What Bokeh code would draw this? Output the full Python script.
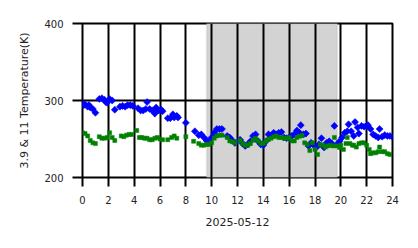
import numpy as np
from bokeh.plotting import figure
from bokeh.models import BoxAnnotation, FixedTicker, Range1d
from bokeh.embed import file_html
from bokeh.resources import INLINE

# ---- data (hours of 2025-05-12, temperatures in K) ----
t11 = [0.0, 0.1, 0.2, 0.4, 0.5, 0.6, 0.8, 1.0, 1.3, 1.5, 1.7, 1.8, 1.9, 2.1, 2.3, 2.5,
       2.9, 3.1, 3.3, 3.5, 3.7, 3.9, 4.3, 4.5, 4.7, 4.9, 5.0, 5.2, 5.4, 5.6, 5.7, 5.9,
       6.1, 6.2, 6.6, 6.8, 7.0, 7.1, 7.3, 7.4, 8.0, 8.7, 9.0, 9.2, 9.4, 9.6, 9.8, 10.0,
       10.2, 10.4, 10.6, 10.8, 11.2, 11.4, 11.6, 11.8, 12.2, 12.4, 12.6, 12.8, 13.0, 13.2,
       13.4, 13.6, 13.8, 14.0, 14.2, 14.4, 14.6, 14.8, 15.0, 15.2, 15.4, 15.6, 15.8, 16.0,
       16.2, 16.4, 16.6, 16.8, 16.9, 17.1, 17.3, 17.5, 17.7, 17.9, 18.1, 18.3, 18.5, 18.7,
       18.9, 19.1, 19.3, 19.5, 19.7, 19.9, 20.1, 20.3, 20.5, 20.6, 20.8, 21.0, 21.1, 21.3,
       21.4, 21.6, 21.8, 22.0, 22.1, 22.3, 22.5, 22.7, 22.9, 23.0, 23.2, 23.4, 23.6, 23.8,
       24.0]
temp11 = [296, 294, 295, 292, 294, 291, 289, 284, 302, 303, 301, 298, 297, 302, 300, 288,
          292, 293, 292, 294, 294, 293, 290, 287, 287, 289, 298, 289, 287, 283, 291, 287,
          288, 286, 277, 277, 282, 278, 280, 278, 271, 260, 255, 256, 252, 248, 247, 252,
          258, 263, 263, 263, 254, 252, 248, 245, 249, 244, 241, 243, 247, 254,
          256, 247, 243, 242, 247, 256, 254, 258, 256, 258, 259, 252, 251, 252,
          254, 256, 261, 258, 268, 256, 257, 241, 245, 242, 239, 243, 251, 239,
          245, 247, 244, 267, 243, 247, 252, 258, 260, 269, 260, 254, 272, 265,
          257, 267, 266, 267, 268, 263, 256, 254, 252, 263, 253, 255, 254, 254,
          253]

t39 = [0.0, 0.2, 0.4, 0.6, 0.8, 1.0, 1.3, 1.5, 1.7, 1.9, 2.1, 2.3, 2.5, 3.0, 3.2, 3.4,
       3.6, 3.8, 4.2, 4.4, 4.6, 4.8, 5.0, 5.2, 5.4, 5.6, 5.8, 6.0, 6.2, 6.6, 6.9, 7.1,
       7.3, 8.0, 8.6, 9.0, 9.2, 9.4, 9.6, 9.8, 10.0, 10.2, 10.4, 10.6, 10.8, 11.2, 11.4,
       11.6, 11.8, 12.2, 12.4, 12.6, 12.8, 13.0, 13.2, 13.4, 13.6, 13.8, 14.0, 14.2, 14.4,
       14.6, 14.8, 15.0, 15.2, 15.4, 15.6, 15.8, 16.0, 16.2, 16.4, 16.6, 16.8, 17.0, 17.2,
       17.4, 17.6, 17.8, 18.0, 18.2, 18.4, 18.6, 18.8, 19.0, 19.2, 19.4, 19.5, 19.7, 19.9,
       20.0, 20.2, 20.4, 20.5, 20.7, 20.9, 21.0, 21.2, 21.4, 21.6, 21.8, 22.0, 22.2, 22.3,
       22.5, 22.7, 22.9, 23.0, 23.2, 23.4, 23.6, 23.8]
temp39 = [258, 257, 254, 248, 245, 244, 253, 251, 251, 252, 258, 252, 248, 254, 253, 255,
          256, 256, 261, 252, 252, 251, 251, 249, 249, 251, 252, 250, 249, 249, 252, 254,
          251, 253, 247, 244, 242, 242, 243, 243, 245, 251, 254, 255, 255, 252, 247.5,
          246.5, 245, 248.5, 244, 242, 242, 244, 248.5, 251, 247.5, 244, 244, 247.5, 249.5,
          251, 253, 254, 252, 252, 251, 251, 252, 247.5, 247.5, 252, 253.5, 254.5, 245,
          243, 235, 245, 236.5, 230, 243, 242, 239.5, 241, 242, 241, 252, 241, 239,
          242, 236.5, 244, 252, 244, 242, 242, 239.5, 244, 245, 245, 242, 236.5, 231,
          232, 232, 233.5, 239.5, 233.5, 233.5, 231, 230]

x_ticks = [0, 2, 4, 6, 8, 10, 12, 14, 16, 18, 20, 22, 24]
y_ticks = [200, 300, 400]
night_start, night_end = 9.62, 19.72

FONT = "DejaVu Sans"

p = figure(width=418, height=248, output_backend="svg", toolbar_location=None,
           x_range=Range1d(0, 24), y_range=Range1d(200, 400),
           min_border_left=82, min_border_right=26, min_border_top=23, min_border_bottom=71,
           x_axis_label="2025-05-12", y_axis_label="3.9 & 11 Temperature(K)")

p.background_fill_color = "white"
p.border_fill_color = "white"
p.outline_line_color = "black"
p.outline_line_width = 2

box = BoxAnnotation(left=night_start, right=night_end, fill_color="#d3d3d3", fill_alpha=1.0,
                    line_color="#b8b8b8", line_width=2, level="image")
p.add_layout(box)

for g in p.xgrid:
    g.ticker = FixedTicker(ticks=x_ticks)
    g.grid_line_color = "black"
    g.grid_line_width = 2
for g in p.ygrid:
    g.ticker = FixedTicker(ticks=y_ticks)
    g.grid_line_color = "black"
    g.grid_line_width = 2

for ax in p.xaxis:
    ax.ticker = FixedTicker(ticks=x_ticks)
    ax.axis_line_color = None
    ax.major_tick_line_color = "black"
    ax.major_tick_line_width = 2
    ax.major_tick_out = 9
    ax.major_tick_in = 0
    ax.minor_tick_line_color = None
    ax.major_label_standoff = 9
    ax.axis_label_standoff = 11
for ax in p.yaxis:
    ax.ticker = FixedTicker(ticks=y_ticks)
    ax.axis_line_color = None
    ax.major_tick_line_color = "black"
    ax.major_tick_line_width = 2
    ax.major_tick_out = 10
    ax.major_tick_in = 0
    ax.minor_tick_line_color = None
    ax.major_label_standoff = 9
    ax.axis_label_standoff = 10

for ax in list(p.xaxis) + list(p.yaxis):
    ax.major_label_text_font = FONT
    ax.major_label_text_font_size = "10px"
    ax.major_label_text_color = "#222222"
    ax.axis_label_text_font = FONT
    ax.axis_label_text_font_size = "11px"
    ax.axis_label_text_font_style = "normal"
    ax.axis_label_text_color = "#222222"

p.scatter(t11, temp11, marker="square", angle=np.pi / 4, size=5,
          fill_color="#0000ff", line_color="#0000ff", line_width=0.5)
p.scatter(t39, temp39, marker="square", size=4,
          fill_color="#008000", line_color="#008000", line_width=0.5)

open("out.html", "w").write(file_html(p, INLINE))
